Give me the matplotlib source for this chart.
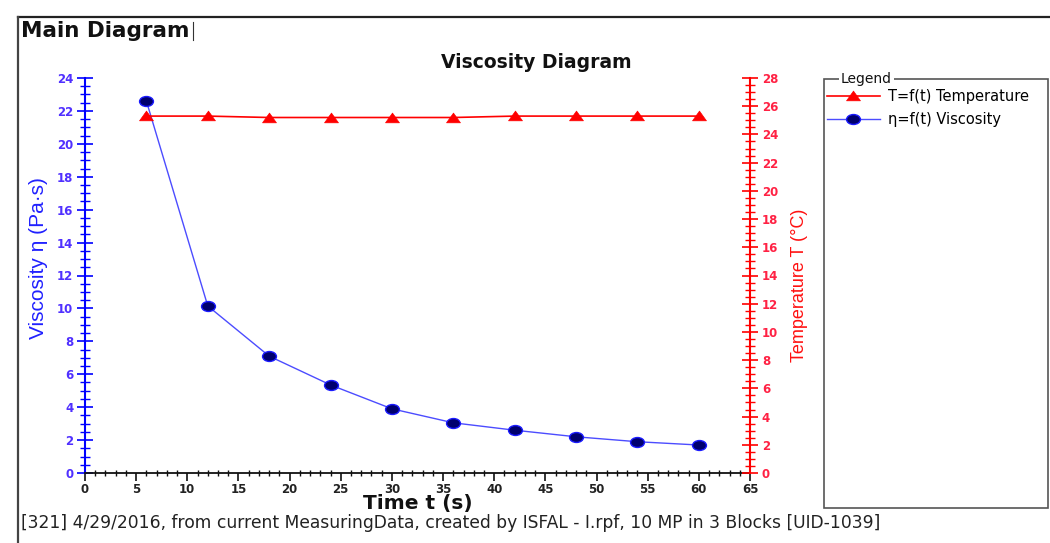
import numpy as np
import matplotlib.pyplot as plt
from matplotlib.lines import Line2D
from matplotlib.patches import Rectangle
from matplotlib.path import Path
from matplotlib.transforms import Affine2D
from matplotlib.ticker import MultipleLocator

# Measured series
time_s = [6, 12, 18, 24, 30, 36, 42, 48, 54, 60]
viscosity = [22.6, 10.15, 7.1, 5.35, 3.9, 3.05, 2.6, 2.2, 1.9, 1.7]
temperature = [25.3, 25.3, 25.2, 25.2, 25.2, 25.2, 25.3, 25.3, 25.3, 25.3]

footer = "[321] 4/29/2016, from current MeasuringData, created by ISFAL - I.rpf, 10 MP in 3 Blocks [UID-1039]"

label_font = ['Liberation Sans', 'DejaVu Sans']

# slightly flattened marker shapes
ellipse = Affine2D().scale(1.4, 1.0).transform_path(Path.unit_circle())
tri = Path([(-1.0, -0.62), (1.0, -0.62), (0.0, 0.78), (-1.0, -0.62)],
           [Path.MOVETO, Path.LINETO, Path.LINETO, Path.CLOSEPOLY])

fig = plt.figure(figsize=(10.5, 5.43), dpi=100)
W, H = 1050, 543
def fx(px): return px / W
def fy(py): return 1 - py / H

# outer frame (top and left edges only)
fig.add_artist(Line2D([fx(18), 1.0], [fy(17), fy(17)], color='#222222', lw=1.6))
fig.add_artist(Line2D([fx(18), fx(18)], [fy(17), 0.0], color='#444444', lw=1.6))

fig.text(fx(21), fy(31), 'Main Diagram', fontsize=15.5, fontweight='bold',
         color='#111111', va='center', ha='left')
fig.add_artist(Line2D([fx(193), fx(193)], [fy(22), fy(40)], color='#333333', lw=0.8))

ax = fig.add_axes([fx(85), fy(473), fx(750) - fx(85), fy(78) - fy(473)])
ax2 = ax.twinx()

lv, = ax.plot(time_s, viscosity, color='#4c4cff', lw=1.0, marker=ellipse, ms=10,
              mfc='#00006e', mec='#1a1aff', mew=1.0, label=u'\u03b7=f(t) Viscosity', zorder=3)
lt, = ax2.plot(time_s, temperature, color='#ff0000', lw=1.2, marker=tri, ms=10,
               mfc='#ff0000', mec='#ff0000', mew=0.5, label='T=f(t) Temperature', zorder=3)

ax.set_xlim(0, 65)
ax.set_ylim(0, 24)
ax2.set_ylim(0, 28)

for a in (ax, ax2):
    a.spines['top'].set_visible(False)
    a.patch.set_visible(False)
ax.spines['right'].set_visible(False)
ax2.spines['left'].set_visible(False)
ax2.spines['bottom'].set_visible(False)
ax.spines['left'].set_color('#0000ff')
ax.spines['left'].set_linewidth(1.5)
ax.spines['bottom'].set_color('#111111')
ax.spines['bottom'].set_linewidth(1.3)
ax2.spines['right'].set_color('#ff0000')
ax2.spines['right'].set_linewidth(1.5)

ax.xaxis.set_major_locator(MultipleLocator(5))
ax.xaxis.set_minor_locator(MultipleLocator(1))
ax.yaxis.set_major_locator(MultipleLocator(2))
ax.yaxis.set_minor_locator(MultipleLocator(0.5))
ax2.yaxis.set_major_locator(MultipleLocator(2))
ax2.yaxis.set_minor_locator(MultipleLocator(0.5))

ax.tick_params(axis='x', which='major', direction='out', length=6, width=1.2,
               color='#111111', labelcolor='#222222', pad=1)
ax.tick_params(axis='x', which='minor', direction='inout', length=5, width=1.0, color='#111111')
ax.tick_params(axis='y', which='major', direction='inout', length=11, width=1.2,
               color='#0000ff', labelcolor='#5030ff', pad=3)
ax.tick_params(axis='y', which='minor', direction='inout', length=7, width=1.0, color='#0000ff')
ax2.tick_params(axis='y', which='major', direction='inout', length=11, width=1.2,
                color='#ff0000', labelcolor='#ff2244', pad=3)
ax2.tick_params(axis='y', which='minor', direction='inout', length=7, width=1.0, color='#ff0000')
for lab in ax.get_xticklabels() + ax.get_yticklabels() + ax2.get_yticklabels():
    lab.set_fontsize(8.5)
    lab.set_fontweight('bold')

ax.set_xlabel('Time t (s)', fontsize=14.5, fontweight='bold', color='#111111', labelpad=-1)
ax.set_ylabel(u'Viscosity \u03b7 (Pa\u00b7s)', fontsize=15, color='#2020ff', family=label_font)
ax.yaxis.set_label_coords(-0.055, 0.545)
ax2.set_ylabel(u'Temperature T (\u00b0C)', fontsize=13, color='#ff1010', family=label_font)
ax2.yaxis.set_label_coords(1.062, 0.476)

fig.text(fx(536), fy(62), 'Viscosity Diagram', fontsize=13.5, fontweight='bold',
         color='#111111', ha='center', va='center')

# legend group box
fig.add_artist(Rectangle((fx(824), fy(508)), fx(1048) - fx(824), fy(79) - fy(508),
                         transform=fig.transFigure, fill=False, ec='#555555', lw=1.2))
fig.text(fx(841), fy(79), 'Legend', fontsize=10, color='#111111', ha='left', va='center',
         bbox=dict(facecolor='white', edgecolor='none', pad=1.5))
fig.legend(handles=[lt, lv], loc='upper left', bbox_to_anchor=(fx(827), fy(89)),
           frameon=False, fontsize=10.5, handlelength=3.6, handletextpad=0.55,
           labelspacing=0.55, borderaxespad=0, borderpad=0)

fig.text(fx(21), fy(523), footer, fontsize=12.3, color='#222222', ha='left', va='center')

fig.savefig('out.png', dpi=100)
